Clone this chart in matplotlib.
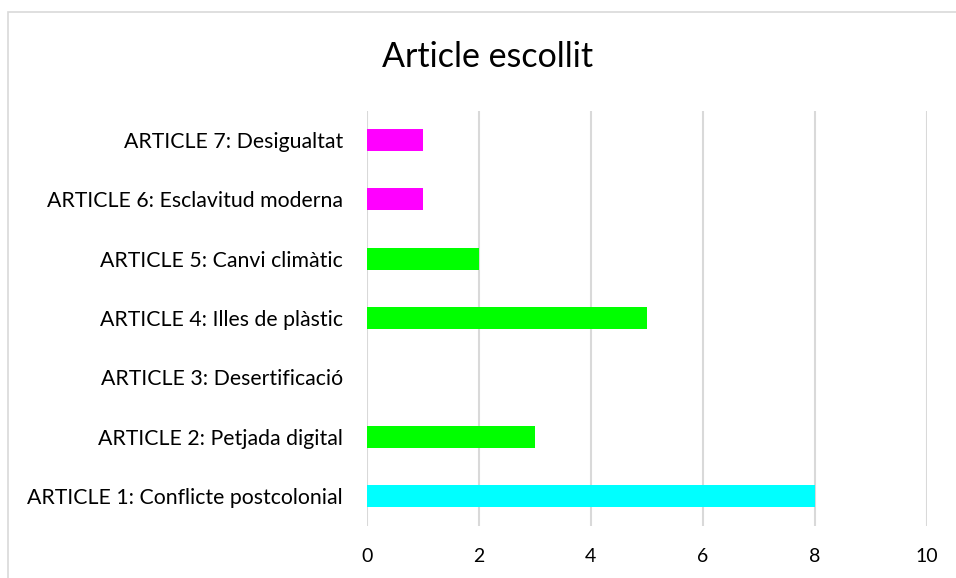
import matplotlib.pyplot as plt
from matplotlib.patches import Rectangle

# dades del gràfic
articles = ['ARTICLE 1: Conflicte postcolonial', 'ARTICLE 2: Petjada digital',
            'ARTICLE 3: Desertificació', 'ARTICLE 4: Illes de plàstic',
            'ARTICLE 5: Canvi climàtic', 'ARTICLE 6: Esclavitud moderna',
            'ARTICLE 7: Desigualtat']
vots = [8, 3, 0, 5, 2, 1, 1]
colors = ['#00FFFF', '#00FF00', '#00FF00', '#00FF00', '#00FF00', '#FF00FF', '#FF00FF']
xticks = [0, 2, 4, 6, 8, 10]

plt.rcParams['font.family'] = ['Lato', 'DejaVu Sans']

W, H = 956, 578
fig = plt.figure(figsize=(W / 100, H / 100), dpi=100)

# marc del gràfic
fig.patches.append(Rectangle((7.5 / W, -0.1), 1.2, 1 - 11.5 / H + 0.1,
                             transform=fig.transFigure, fill=False,
                             edgecolor='#D9D9D9', linewidth=1.2))

ax = fig.add_axes([366.7 / W, 1 - 525.7 / H, 560 / W, 415.2 / H])
ypos = list(range(len(articles)))
ax.barh(ypos, vots, height=0.37, color=colors, zorder=3)

ax.set_xlim(0, 10)
ax.set_ylim(-0.5, len(articles) - 0.5)
ax.set_xticks(xticks)
ax.set_yticks(ypos)
ax.set_yticklabels(articles, fontsize=15.3)
ax.set_xticklabels([str(t) for t in xticks], fontsize=14)
ax.grid(axis='x', color='#D9D9D9', linewidth=1.5, zorder=0)
for s in ax.spines.values():
    s.set_visible(False)
ax.tick_params(axis='both', length=0, colors='#000000')
ax.tick_params(axis='y', pad=17)
ax.tick_params(axis='x', pad=16)

fig.text(488 / W, 1 - 57 / H, 'Article escollit', ha='center', va='center',
         fontsize=24.5)

fig.savefig('out.png', dpi=100)
